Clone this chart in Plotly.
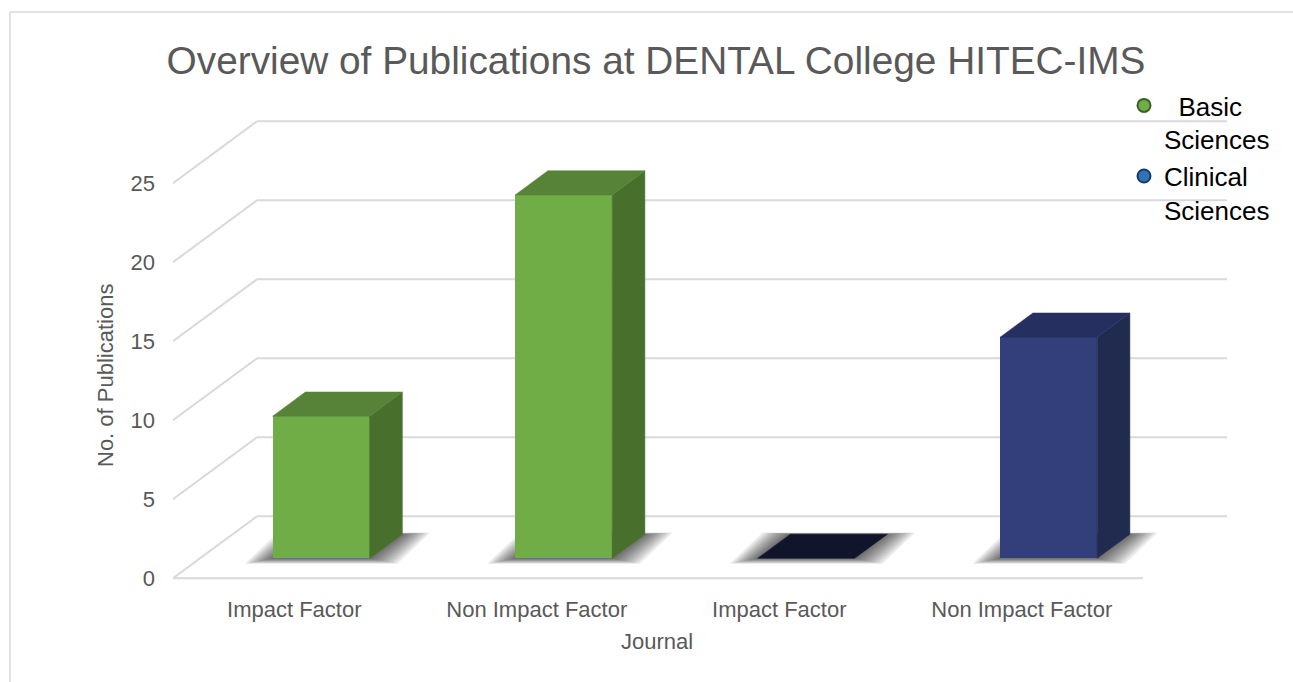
import plotly.graph_objects as go

# ---------------- data ----------------
categories = ["Impact Factor", "Non Impact Factor", "Impact Factor", "Non Impact Factor"]
groups = ["Basic Sciences", "Basic Sciences", "Clinical Sciences", "Clinical Sciences"]
publications = [9, 23, 0, 14]
y_ticks = [0, 5, 10, 15, 20, 25]
series_names = ["Basic Sciences", "Clinical Sciences"]
legend_labels = ["\u00a0\u00a0Basic<br>Sciences", "Clinical<br>Sciences"]
title_text = "Overview of Publications at DENTAL College HITEC-IMS"
x_title = "Journal"
y_title = "No. of Publications"

# ---------------- styles ----------------
front_colors = {"Basic Sciences": "#70AD47", "Clinical Sciences": "#333F7B"}
top_colors = {"Basic Sciences": "#568337", "Clinical Sciences": "#253061"}
side_colors = {"Basic Sciences": "#48702C", "Clinical Sciences": "#212A4F"}
zero_top_color = "#11152B"
legend_fill = {"Basic Sciences": "#70AD47", "Clinical Sciences": "#2E75B6"}
legend_edge = {"Basic Sciences": "#3B5E26", "Clinical Sciences": "#1F3864"}
grid_color = "#D9D9D9"
text_color = "#595959"
FONT = "Liberation Sans"

# ---------------- geometry (3-D look) ----------------
W, H = 1293, 682
ML, MR, MT, MB = 173, 66, 100, 88
PX_PER_CAT = 242.5
PX_PER_UNIT = 15.8
DX = 84 / PX_PER_CAT          # depth offset in category units
DY = 62 / PX_PER_UNIT         # depth offset in value units
n = len(categories)
x_max = n + DX
plot_h = H - MT - MB
y_min = -1.0
y_max = y_min + plot_h / PX_PER_UNIT
plot_w = W - ML - MR

BAR_W = 0.4
F0 = 0.32      # depth fraction of bar front face
DF = 0.39      # bar depth fraction


def px_to_paper_x(px):
    return (px - ML) / plot_w


def px_to_paper_y(py):
    return (H - MB - py) / plot_h


fig = go.Figure()
shapes = []

# gridlines on back wall and side wall
for v in y_ticks:
    shapes.append(dict(type="line", xref="x", yref="y", layer="below",
                       x0=DX, y0=v + DY, x1=n + DX, y1=v + DY,
                       line=dict(color=grid_color, width=2)))
    shapes.append(dict(type="line", xref="x", yref="y", layer="below",
                       x0=0, y0=v, x1=DX, y1=v + DY,
                       line=dict(color=grid_color, width=2)))
# floor front edge
shapes.append(dict(type="line", xref="x", yref="y", layer="below",
                   x0=0, y0=0, x1=n, y1=0,
                   line=dict(color=grid_color, width=2)))

# bar geometry
centers = [i + 0.5 + F0 * DX for i in range(n)]
base = F0 * DY
ddx = DF * DX
ddy = DF * DY

# soft shadows on the floor
N_SH = 10
for i in range(n):
    xl = centers[i] - BAR_W / 2
    xr = centers[i] + BAR_W / 2
    for j in range(N_SH, 0, -1):
        ex = 0.115 * j / N_SH
        ey = 0.34 * j / N_SH
        pts = [(xl - ex, base - ey), (xr + ex, base - ey),
               (xr + ddx + ex, base + ddy + ey * 0.3), (xl + ddx - ex, base + ddy + ey * 0.3)]
        path = "M " + " L ".join(f"{px},{py}" for px, py in pts) + " Z"
        shapes.append(dict(type="path", xref="x", yref="y", layer="below", path=path,
                           fillcolor="rgba(0,0,0,0.075)", line=dict(width=0)))

# front faces as real bars
fig.add_trace(go.Bar(
    x=centers, y=publications, base=[base] * n, width=BAR_W,
    marker=dict(color=[front_colors[g] for g in groups], line=dict(width=0)),
    showlegend=False, hoverinfo="skip"))

# side and top faces
for i in range(n):
    v = publications[i]
    g = groups[i]
    xl = centers[i] - BAR_W / 2
    xr = centers[i] + BAR_W / 2
    if v > 0:
        sx = [xr, xr, xr + ddx, xr + ddx, xr]
        sy = [base, base + v, base + v + ddy, base + ddy, base]
        fig.add_trace(go.Scatter(x=sx, y=sy, mode="lines", fill="toself",
                                 fillcolor=side_colors[g], line=dict(width=0.5, color=side_colors[g]),
                                 showlegend=False, hoverinfo="skip"))
    tcol = top_colors[g] if v > 0 else zero_top_color
    tx = [xl, xr, xr + ddx, xl + ddx, xl]
    ty = [base + v, base + v, base + v + ddy, base + v + ddy, base + v]
    fig.add_trace(go.Scatter(x=tx, y=ty, mode="lines", fill="toself",
                             fillcolor=tcol, line=dict(width=0.5, color=tcol),
                             showlegend=False, hoverinfo="skip"))

# legend entries
for name, label in zip(series_names, legend_labels):
    fig.add_trace(go.Scatter(
        x=[None], y=[None], mode="markers", name=label,
        marker=dict(symbol="circle", size=13, color=legend_fill[name],
                    line=dict(color=legend_edge[name], width=2))))

# outer chart border
shapes.append(dict(type="rect", xref="paper", yref="paper",
                   x0=px_to_paper_x(10), y0=px_to_paper_y(705),
                   x1=px_to_paper_x(1310), y1=px_to_paper_y(12),
                   line=dict(color="#D9D9D9", width=1.5), fillcolor="rgba(0,0,0,0)"))

annotations = [
    dict(text=y_title, xref="paper", yref="paper", x=px_to_paper_x(105), y=px_to_paper_y(376),
         textangle=-90, showarrow=False, xanchor="center", yanchor="middle",
         font=dict(family=FONT, size=22, color=text_color)),
    dict(text=x_title, xref="paper", yref="paper", x=px_to_paper_x(657), y=px_to_paper_y(641),
         showarrow=False, xanchor="center", yanchor="middle",
         font=dict(family=FONT, size=22, color=text_color)),
]

fig.update_layout(
    width=W, height=H,
    margin=dict(l=ML, r=MR, t=MT, b=MB, pad=0),
    paper_bgcolor="white", plot_bgcolor="white",
    title=dict(text=title_text, xref="container", yref="container",
               x=656 / W, y=1 - 60 / H, xanchor="center", yanchor="middle",
               font=dict(family=FONT, size=38.8, color=text_color)),
    xaxis=dict(range=[0, x_max], showgrid=False, zeroline=False, showline=False,
               tickmode="array", tickvals=[i + 0.5 for i in range(n)], ticktext=categories,
               ticks="", tickfont=dict(family=FONT, size=22, color=text_color), fixedrange=True),
    yaxis=dict(range=[y_min, y_max], showgrid=False, zeroline=False, showline=False,
               tickmode="array", tickvals=y_ticks, ticks="", ticklabelstandoff=17,
               tickfont=dict(family=FONT, size=22, color=text_color), fixedrange=True),
    legend=dict(x=px_to_paper_x(1124), y=px_to_paper_y(82), xanchor="left", yanchor="top",
                valign="top", font=dict(family=FONT, size=26, color="black"),
                bgcolor="rgba(0,0,0,0)", tracegroupgap=4),
    shapes=shapes,
    annotations=annotations,
    showlegend=True,
    bargap=0,
)

fig.write_html("out.html", config={"displayModeBar": False},
               post_script="document.body.style.margin='0';document.body.style.overflow='hidden';")
